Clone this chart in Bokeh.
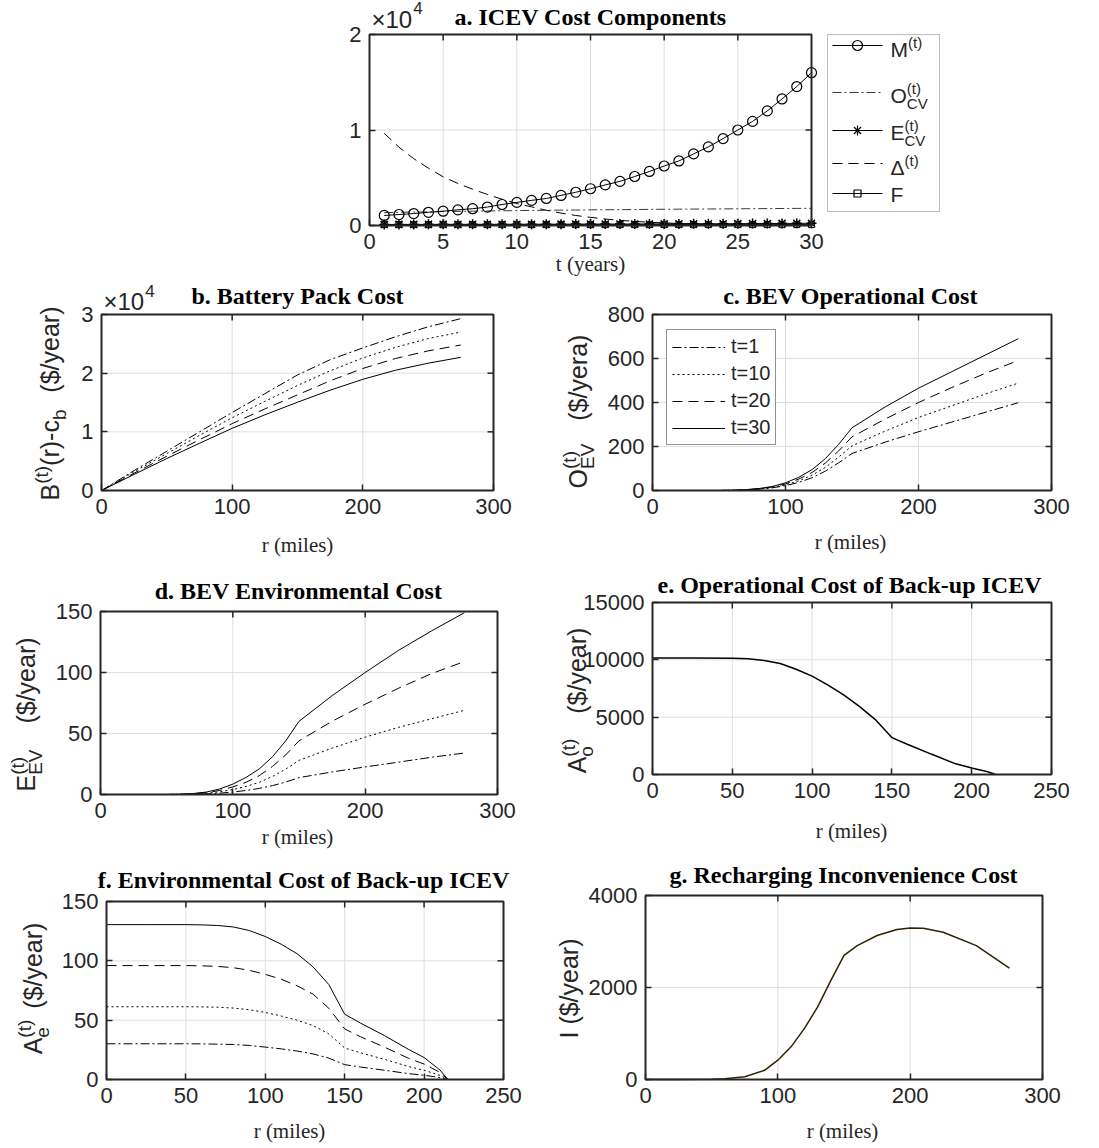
import math
from bokeh.plotting import figure
from bokeh.layouts import column, row
from bokeh.models import (Range1d, FixedTicker, LinearAxis, Label, Legend, LegendItem,
                          BoxAnnotation)
from bokeh.embed import file_html
from bokeh.resources import INLINE

# ---------------- data ----------------
t_years = list(range(1, 31))
M_t = [1050, 1150, 1250, 1380, 1500, 1640, 1760, 1930, 2200, 2420, 2630, 2830, 3150, 3480, 3850,
       4250, 4620, 5130, 5660, 6230, 6760, 7500, 8230, 9100, 10000, 10900, 12000, 13250, 14550, 16000]
O_cv = [1350, 1380, 1410, 1430, 1460, 1480, 1500, 1520, 1540, 1560, 1580, 1590, 1610, 1620, 1640,
        1650, 1660, 1670, 1690, 1700, 1710, 1720, 1730, 1740, 1750, 1760, 1770, 1780, 1790, 1800]
E_cv = [110, 112, 115, 118, 120, 122, 125, 128, 130, 133, 136, 139, 142, 145, 148,
        151, 155, 158, 162, 166, 170, 175, 180, 186, 192, 200, 208, 216, 225, 235]
Delta_t = [9650, 8200, 7000, 6000, 5100, 4400, 3800, 3250, 2750, 2300, 1950, 1600, 1300, 1050, 850,
           680, 540, 430, 340, 270, 210, 170, 130, 100, 80, 60, 50, 40, 30, 20]
F_cost = [90] * 30

r_b = [0, 25, 50, 75, 100, 125, 150, 175, 200, 225, 250, 275]
B_t1 = [0, 3400, 6700, 10000, 13300, 16500, 19700, 22300, 24300, 26200, 27900, 29300]
B_t10 = [0, 3200, 6300, 9400, 12400, 15200, 17900, 20400, 22600, 24400, 25900, 27000]
B_t20 = [0, 2950, 5850, 8650, 11400, 13900, 16300, 18700, 20800, 22500, 23800, 24800]
B_t30 = [0, 2750, 5450, 8050, 10600, 12900, 15050, 17100, 18950, 20500, 21700, 22700]

r_c = [0, 25, 50, 60, 70, 80, 90, 100, 110, 120, 130, 140, 150, 175, 200, 225, 250, 275]
Oev_t1 = [0, 0, 0, 1, 2, 6, 12, 22, 37, 58, 88, 126, 168, 220, 267, 311, 355, 399]
Oev_t10 = [0, 0, 0, 1, 3, 7, 14, 26, 44, 70, 105, 152, 203, 270, 332, 385, 438, 488]
Oev_t20 = [0, 0, 0, 1, 3, 8, 16, 30, 52, 82, 125, 180, 244, 325, 400, 468, 532, 591]
Oev_t30 = [0, 0, 0, 1, 4, 9, 18, 35, 60, 95, 145, 210, 285, 380, 465, 540, 615, 690]

Eev_t1 = [0, 0, 0, 0, 0.2, 0.5, 1.1, 2, 3.3, 5, 7.3, 10.2, 13.8, 18.5, 22.6, 26.5, 30.5, 34]
Eev_t10 = [0, 0, 0, 0.1, 0.4, 1, 2.2, 4, 6.6, 10, 14.8, 20.8, 28, 38, 47, 55, 62, 69]
Eev_t20 = [0, 0, 0, 0.2, 0.6, 1.5, 3.3, 6.2, 10, 15.5, 23, 32.5, 44, 60, 74, 87, 99, 109]
Eev_t30 = [0, 0, 0, 0.2, 0.8, 2, 4.5, 8.5, 14, 21, 31, 44, 60, 81, 100, 118, 134, 149]

r_e = [0, 25, 50, 60, 70, 80, 90, 100, 110, 120, 130, 140, 150, 160, 175, 190, 200, 210, 215]
Ao = [10150, 10150, 10140, 10100, 9950, 9680, 9180, 8580, 7800, 6920, 5900, 4740, 3220, 2620, 1760,
      930, 560, 240, 0]
Ae_t1 = [30.1, 30.1, 30.1, 30, 29.8, 29.5, 28.7, 27.3, 25.8, 24, 21.6, 18, 12.5, 10.5, 7.8, 5, 3.6, 1.6, 0]
Ae_t10 = [61.3, 61.3, 61.3, 61.2, 60.9, 60.2, 58.8, 56.5, 53.5, 50, 45.5, 38.5, 26.5, 22.5, 17, 11, 7.8, 3.5, 0]
Ae_t20 = [96, 96, 96, 95.8, 95.3, 94.2, 92, 88.6, 84.5, 79, 72, 60, 42.6, 36, 27.3, 18, 13, 6, 0]
Ae_t30 = [130.5, 130.5, 130.5, 130.3, 129.8, 128.5, 125.5, 120.5, 114, 106, 95, 80, 55, 47.5, 37, 25.5, 18.5, 8, 0]

r_g = [0, 25, 50, 60, 75, 90, 100, 110, 120, 130, 140, 150, 160, 175, 190, 200, 210, 225, 250, 275]
I_cost = [0, 0, 3, 14, 58, 200, 420, 710, 1105, 1575, 2150, 2700, 2910, 3130, 3260, 3295, 3290,
          3200, 2910, 2420]

legend_c_labels = ["t=1", "t=10", "t=20", "t=30"]

# ---------------- styling helpers ----------------
SANS = "Liberation Sans"
SERIF = "Liberation Serif"
TXT = "#262626"
DASHDOT = "9 3 2 3"
DASHED = "10 6"
DOTTED = "2 3"
BASE_FIX = 0.3   # Bokeh draws 'alphabetic' text a little low; lift it by this fraction of the size

W = {' ': 278, '(': 333, ')': 333, '-': 333, '$': 556, '/': 278, 't': 278, 'r': 333, 'c': 500,
     'b': 556, 'y': 500, 'e': 556, 'a': 556, 'o': 556, 'B': 667, 'O': 778, 'E': 667, 'V': 667,
     'A': 667, 'I': 278, 'M': 833, 'C': 722, 'F': 611, '\u0394': 668, '\u00d7': 584}


def tw(s, size):
    return sum(W.get(ch, 556) for ch in s) / 1000.0 * size


def run_len(runs, F, s):
    tot = 0
    for run in runs:
        if run[0] == 'n':
            tot += tw(run[1], F)
        elif run[0] in ('sup', 'sub'):
            tot += tw(run[1], s)
        elif run[0] == 'gap':
            tot += run[1]
        else:
            tot += max(tw(run[1], s), tw(run[2], s))
    return tot


class Panel:
    """A figure whose frame covers the whole canvas; the axes box is placed inside it."""

    def __init__(self, gx, gy, w, h, box, xr, yr, xt, yt, ylabels=None):
        self.gx, self.gy, self.w, self.h = gx, gy, w, h
        bx0, by0, bx1, by1 = box
        bw, bh = bx1 - bx0, by1 - by0
        self.sx = (xr[1] - xr[0]) / bw
        self.sy = (yr[1] - yr[0]) / bh
        lx0, ly0 = bx0 - gx, by0 - gy
        self.xs = xr[0] - lx0 * self.sx
        xe = xr[1] + (w - lx0 - bw) * self.sx
        ys = yr[0] - (h - ly0 - bh) * self.sy
        self.ye = yr[1] + ly0 * self.sy
        p = figure(width=w, height=h, x_range=Range1d(self.xs, xe), y_range=Range1d(ys, self.ye),
                   x_axis_type=None, y_axis_type=None, min_border=0,
                   output_backend="svg", toolbar_location=None)
        p.outline_line_color = None
        p.background_fill_color = "white"
        p.border_fill_color = "white"
        self.p = p
        # grid lines
        gxs = [v for v in xt if xr[0] < v < xr[1]]
        gys = [v for v in yt if yr[0] < v < yr[1]]
        p.segment(x0=gxs, y0=[yr[0]] * len(gxs), x1=gxs, y1=[yr[1]] * len(gxs),
                  line_color="#dedede", line_width=1, level="underlay")
        p.segment(x0=[xr[0]] * len(gys), y0=gys, x1=[xr[1]] * len(gys), y1=gys,
                  line_color="#dedede", line_width=1, level="underlay")
        # axes (left / below) fixed on the box edges, ticks inside
        xa = LinearAxis(ticker=FixedTicker(ticks=xt), fixed_location=yr[0])
        ya = LinearAxis(ticker=FixedTicker(ticks=yt), fixed_location=xr[0])
        for ax in (xa, ya):
            ax.axis_line_color = None
            ax.major_tick_in = 6
            ax.major_tick_out = 0
            ax.major_tick_line_color = TXT
            ax.major_tick_line_width = 1.5
            ax.minor_tick_line_color = None
            ax.major_label_text_font = SANS
            ax.major_label_text_font_size = "22px"
            ax.major_label_text_color = TXT
            ax.major_label_standoff = 8
        if ylabels:
            ya.major_label_overrides = ylabels
        p.add_layout(xa, "below")
        p.add_layout(ya, "left")
        # tick marks on the top and right edges (box on)
        tx = [v for v in xt if xr[0] < v < xr[1]]
        ty = [v for v in yt if yr[0] < v < yr[1]]
        p.segment(x0=tx, y0=[yr[1]] * len(tx), x1=tx, y1=[yr[1] - 6 * self.sy] * len(tx),
                  line_color=TXT, line_width=1.5, level="overlay")
        p.segment(x0=[xr[1]] * len(ty), y0=ty, x1=[xr[1] - 6 * self.sx] * len(ty), y1=ty,
                  line_color=TXT, line_width=1.5, level="overlay")
        # axes box
        p.add_layout(BoxAnnotation(left=xr[0], right=xr[1], bottom=yr[0], top=yr[1],
                                   fill_alpha=0, line_color=TXT, line_width=2, line_alpha=1,
                                   level="overlay"))

    # global page pixel -> screen coords of the frame (x from left, y from bottom)
    def X(self, gx):
        return gx - self.gx

    def Y(self, gy):
        return self.h - (gy - self.gy)

    # global page pixel -> data coords
    def DX(self, gx):
        return self.xs + (gx - self.gx) * self.sx

    def DY(self, gy):
        return self.ye - (gy - self.gy) * self.sy

    def label(self, text, gx, gy, font=SANS, size=22, style="normal", align="left",
              vertical=False, color=TXT):
        if vertical:
            gx -= BASE_FIX * size
        else:
            gy -= BASE_FIX * size
        self.p.add_layout(Label(x=self.X(gx), y=self.Y(gy), x_units="screen", y_units="screen",
                                text=text, angle=math.pi / 2 if vertical else 0.0,
                                text_font=font, text_font_style=style,
                                text_font_size=f"{size:.1f}px", text_color=color,
                                text_align=align, text_baseline="alphabetic"))

    def rich(self, runs, gx, gy, F, s, vertical=False):
        """Text with super/subscripts; (gx, gy) = start of the baseline (global px)."""
        pos = 0.0
        for run in runs:
            if run[0] == 'gap':
                pos += run[1]
                continue
            if run[0] == 'n':
                items = [(run[1], F, 0.0)]
                adv = tw(run[1], F)
            elif run[0] == 'sup':
                items = [(run[1], s, 0.42 * F)]
                adv = tw(run[1], s)
            elif run[0] == 'sub':
                items = [(run[1], s, -0.3 * F)]
                adv = tw(run[1], s)
            else:
                items = [(run[1], s, 0.42 * F), (run[2], s, -0.3 * F)]
                adv = max(tw(run[1], s), tw(run[2], s))
            for txt, size, shift in items:
                lead = len(txt) - len(txt.lstrip(' '))
                off = pos + tw(' ' * lead, size)
                txt = txt.strip(' ')
                if vertical:
                    self.label(txt, gx - shift, gy - off, size=size, vertical=True)
                else:
                    self.label(txt, gx + off, gy - shift, size=size)
            pos += adv

    def title(self, text, cx, base):
        self.label(text, cx, base, font=SERIF, size=24, style="bold", align="center", color="black")

    def xlabel(self, text, cx, base):
        self.label(text, cx, base, font=SERIF, size=21, align="center")

    def ylabel(self, runs, gxb, cy, F=25, s=19):
        L = run_len(runs, F, s)
        self.rich(runs, gxb, cy + L / 2, F, s, vertical=True)

    def exponent(self, gx, base, base_sup):
        self.label("\u00d710", gx, base, size=24)
        self.label("4", gx + tw("\u00d710", 24) + 1, base_sup, size=17)


# ---------------- panel a (+ its legend) ----------------
A = Panel(0, 0, 1095, 278, (369, 34, 811, 225), (0, 30), (0, 20000),
          [0, 5, 10, 15, 20, 25, 30], [0, 10000, 20000],
          ylabels={0: "0", 10000: "1", 20000: "2"})
pa = A.p
pa.line(t_years, F_cost, line_color="black", line_width=1)
pa.scatter(t_years, F_cost, marker="square", size=6, fill_color=None, line_color="black", line_width=1)
pa.line(t_years, E_cv, line_color="black", line_width=1)
pa.scatter(t_years, E_cv, marker="asterisk", size=10, line_color="black", line_width=1.5)
pa.line(t_years, Delta_t, line_color="black", line_width=1, line_dash=DASHED)
pa.line(t_years, O_cv, line_color="#3a3a3a", line_width=1, line_dash=DASHDOT)
pa.line(t_years, M_t, line_color="black", line_width=1)
pa.scatter(t_years, M_t, marker="circle", size=10, fill_color=None, line_color="black", line_width=1.2)
A.title("a. ICEV Cost Components", 590, 24)
A.xlabel("t (years)", 590, 270)
A.exponent(371, 26, 13)

# legend box of panel a (drawn by hand because the labels carry sub/superscripts)
pa.add_layout(BoxAnnotation(left=A.DX(827), right=A.DX(939), top=A.DY(34), bottom=A.DY(211),
                            fill_alpha=0, line_color=TXT, line_width=1, level="overlay"))
leg_y = [45, 92, 130, 163, 193]
leg_style = [("solid", "circle", "black"), (DASHDOT, None, "#3a3a3a"), ("solid", "asterisk", "black"),
             (DASHED, None, "black"), ("solid", "square", "black")]
leg_runs = [
    [('n', 'M'), ('sup', '(t)')],
    [('n', 'O'), ('stack', '(t)', 'CV')],
    [('n', 'E'), ('stack', '(t)', 'CV')],
    [('n', '\u0394'), ('sup', '(t)')],
    [('n', 'F')],
]
leg_drop = [10, 9, 8, 10, 7]
for gy, (dash, mk, col), runs, drop in zip(leg_y, leg_style, leg_runs, leg_drop):
    pa.line([A.DX(832), A.DX(882)], [A.DY(gy), A.DY(gy)], line_color=col, line_width=1,
            line_dash=dash)
    if mk:
        pa.scatter([A.DX(857)], [A.DY(gy)], marker=mk, size=10 if mk != "square" else 7,
                   fill_color=None, line_color="black", line_width=1.2)
    A.rich(runs, 890, gy + drop, 21, 15)

# ---------------- panel b ----------------
B = Panel(0, 278, 545, 284, (101, 314, 493, 490), (0, 300), (0, 30000),
          [0, 100, 200, 300], [0, 10000, 20000, 30000],
          ylabels={0: "0", 10000: "1", 20000: "2", 30000: "3"})
pb = B.p
pb.line(r_b, B_t1, line_color="black", line_width=1, line_dash=DASHDOT)
pb.line(r_b, B_t10, line_color="black", line_width=1, line_dash=DOTTED)
pb.line(r_b, B_t20, line_color="black", line_width=1, line_dash=DASHED)
pb.line(r_b, B_t30, line_color="black", line_width=1)
B.title("b. Battery Pack Cost", 297, 303)
B.xlabel("r (miles)", 297, 551)
B.exponent(103, 308, 296)
B.ylabel([('n', 'B'), ('sup', '(t)'), ('n', '(r)-c'), ('sub', 'b'), ('gap', 3), ('n', '  ($/year)')],
         57, 403)

# ---------------- panel c ----------------
C = Panel(545, 278, 550, 284, (652, 314, 1051, 490), (0, 300), (0, 800),
          [0, 100, 200, 300], [0, 200, 400, 600, 800])
pc = C.p
rc1 = pc.line(r_c, Oev_t1, line_color="black", line_width=1, line_dash=DASHDOT)
rc2 = pc.line(r_c, Oev_t10, line_color="black", line_width=1, line_dash=DOTTED)
rc3 = pc.line(r_c, Oev_t20, line_color="black", line_width=1, line_dash=DASHED)
rc4 = pc.line(r_c, Oev_t30, line_color="black", line_width=1)
leg_c = Legend(items=[LegendItem(label=lab, renderers=[rr]) for lab, rr in
                      zip(legend_c_labels, [rc1, rc2, rc3, rc4])],
               location=(C.X(666), C.Y(445)), label_text_font=SANS, label_text_font_size="20px",
               label_text_color=TXT, glyph_width=53, glyph_height=20, label_standoff=6,
               spacing=4, padding=5, margin=0, border_line_color=TXT, border_line_width=1,
               background_fill_alpha=1)
pc.add_layout(leg_c)
C.title("c. BEV Operational Cost", 850, 303)
C.xlabel("r (miles)", 850, 548)
C.ylabel([('n', 'O'), ('stack', '(t)', 'EV'), ('gap', 9), ('n', '  ($/yera)')], 585, 411)

# ---------------- panel d ----------------
D = Panel(0, 562, 545, 288, (100, 611, 497, 794), (0, 300), (0, 150),
          [0, 100, 200, 300], [0, 50, 100, 150])
pd_ = D.p
pd_.line(r_c, Eev_t1, line_color="black", line_width=1, line_dash=DASHDOT)
pd_.line(r_c, Eev_t10, line_color="black", line_width=1, line_dash=DOTTED)
pd_.line(r_c, Eev_t20, line_color="black", line_width=1, line_dash=DASHED)
pd_.line(r_c, Eev_t30, line_color="black", line_width=1)
D.title("d. BEV Environmental Cost", 298, 598)
D.xlabel("r (miles)", 297, 843)
D.ylabel([('n', 'E'), ('stack', '(t)', 'EV'), ('gap', 12), ('n', '  ($/year)')], 33, 714)

# ---------------- panel e ----------------
E = Panel(545, 562, 550, 288, (652, 602, 1051, 774), (0, 250), (0, 15000),
          [0, 50, 100, 150, 200, 250], [0, 5000, 10000, 15000])
pe = E.p
pe.line(r_e, Ao, line_color="black", line_width=1.5)
E.title("e. Operational Cost of Back-up ICEV", 849, 592)
E.xlabel("r (miles)", 851, 837)
E.ylabel([('n', 'A'), ('stack', '(t)', 'o'), ('gap', 18), ('n', ' ($/year)')], 584, 700)

# ---------------- panel f ----------------
Fp = Panel(0, 850, 545, 296, (106, 901, 503, 1079), (0, 250), (0, 150),
           [0, 50, 100, 150, 200, 250], [0, 50, 100, 150])
pf = Fp.p
pf.line(r_e, Ae_t1, line_color="black", line_width=1, line_dash=DASHDOT)
pf.line(r_e, Ae_t10, line_color="black", line_width=1, line_dash=DOTTED)
pf.line(r_e, Ae_t20, line_color="black", line_width=1, line_dash=DASHED)
pf.line(r_e, Ae_t30, line_color="black", line_width=1)
Fp.title("f. Environmental Cost of Back-up ICEV", 303, 887)
Fp.xlabel("r (miles)", 289, 1137)
Fp.ylabel([('n', 'A'), ('stack', '(t)', 'e'), ('gap', 4), ('n', ' ($/year)')], 40, 988)

# ---------------- panel g ----------------
G = Panel(545, 850, 550, 296, (645, 895, 1042, 1079), (0, 300), (0, 4000),
          [0, 100, 200, 300], [0, 2000, 4000])
pg = G.p
pg.line(r_g, I_cost, line_color="#2e2200", line_width=1.5)
G.title("g. Recharging Inconvenience Cost", 843, 882)
G.xlabel("r (miles)", 842, 1137)
G.ylabel([('n', 'I ($/year)')], 576, 988)

layout = column(row(A.p), row(B.p, C.p), row(D.p, E.p), row(Fp.p, G.p))
open("out.html", "w").write(file_html(layout, INLINE))
